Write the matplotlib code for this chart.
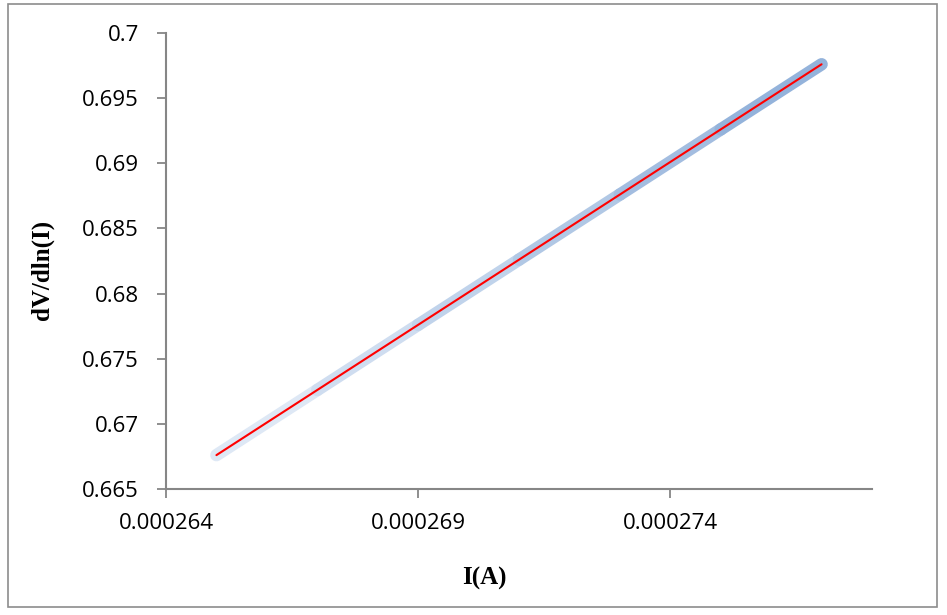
import numpy as np
import matplotlib
matplotlib.use("Agg")
import matplotlib.pyplot as plt
from matplotlib.collections import LineCollection
from matplotlib.patches import Rectangle

# current (A) and dV/dln(I) (V)
current = [0.000265, 0.000267, 0.000269, 0.000271, 0.000273, 0.000275, 0.000277]
dv_dlni = [0.6676, 0.6726, 0.6776, 0.6826, 0.6876, 0.6926, 0.6976]

x_ticks = [0.000264, 0.000269, 0.000274]
x_tick_labels = ["0.000264", "0.000269", "0.000274"]
y_ticks = [0.665, 0.67, 0.675, 0.68, 0.685, 0.69, 0.695, 0.7]
y_tick_labels = ["0.665", "0.67", "0.675", "0.68", "0.685", "0.69", "0.695", "0.7"]

fig = plt.figure(figsize=(9.47, 6.15), dpi=100)
fig.patches.append(Rectangle((8 / 947, 8 / 615), 929 / 947, 603 / 615,
                             transform=fig.transFigure, fill=False,
                             edgecolor="#8c8c8c", linewidth=1.2))

ax = fig.add_axes([166 / 947, 1 - 489 / 615, (872 - 166) / 947, (489 - 33) / 615])

# wide blue band with a soft gradient, red fit on top
x = np.array(current)
y = np.array(dv_dlni)
segs = np.array([[[x[i], y[i]], [x[i + 1], y[i + 1]]] for i in range(len(x) - 1)])
light = np.array([0.87, 0.91, 0.96])
dark = np.array([0.58, 0.70, 0.86])
t = np.linspace(0, 1, len(segs))
cols = [tuple(light + (dark - light) * v) for v in t]
band = LineCollection(segs, colors=cols, linewidths=9, capstyle="round")
ax.add_collection(band)
ax.plot(current, dv_dlni, color="red", linewidth=1.5, solid_capstyle="round", zorder=3)

ax.set_xlim(0.000264, 0.000278)
ax.set_ylim(0.665, 0.7)
ax.set_xticks(x_ticks)
ax.set_xticklabels(x_tick_labels)
ax.set_yticks(y_ticks)
ax.set_yticklabels(y_tick_labels)

for side in ["top", "right"]:
    ax.spines[side].set_visible(False)
for side in ["left", "bottom"]:
    ax.spines[side].set_color("#868686")
    ax.spines[side].set_linewidth(1.5)
ax.tick_params(direction="out", length=6.5, width=1.3, color="#868686",
               labelsize=16)
ax.tick_params(axis="y", pad=13)
ax.tick_params(axis="x", pad=11)
for lab in ax.get_xticklabels() + ax.get_yticklabels():
    lab.set_fontfamily("Open Sans")

ax.set_xlabel("I(A)", fontfamily="Liberation Serif", fontweight="bold", fontsize=18)
ax.set_ylabel("dV/dln(I)", fontfamily="Liberation Serif", fontweight="bold", fontsize=18)
ax.xaxis.set_label_coords(0.5 * (484 - 166) / 353, (489 - 578) / 456)
ax.xaxis.label.set_va("center")
ax.yaxis.set_label_coords((42 - 166) / 706, 0.5 * (489 - 33) / 456 + (489 - 270 - 228) / 456)
ax.yaxis.label.set_va("center")

fig.savefig("out.png", dpi=100)
